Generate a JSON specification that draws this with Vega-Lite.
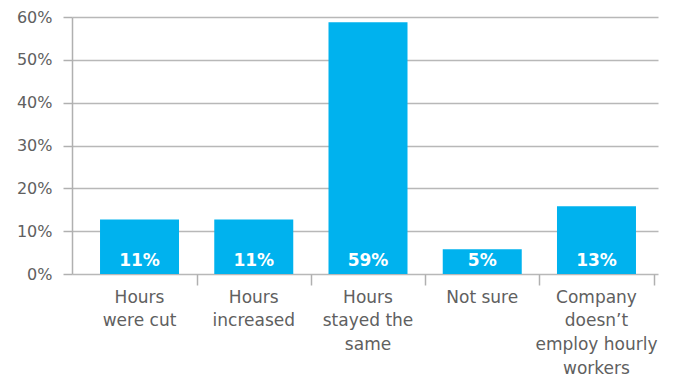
{
  "$schema": "https://vega.github.io/schema/vega-lite/v6.json",
  "width": 586,
  "height": 257,
  "autosize": {"type": "none"},
  "padding": {"left": 72, "top": 17, "right": 15, "bottom": 103},
  "background": "white",
  "config": {"view": {"stroke": null}, "font": "DejaVu Sans"},
  "data": {
    "values": [
      {"category": "Hours|were cut", "value": 12.7, "label": "11%"},
      {"category": "Hours|increased", "value": 12.7, "label": "11%"},
      {"category": "Hours|stayed the|same", "value": 58.8, "label": "59%"},
      {"category": "Not sure", "value": 5.8, "label": "5%"},
      {"category": "Company|doesn’t|employ hourly|workers", "value": 15.8, "label": "13%"}
    ]
  },
  "resolve": {"axis": {"x": "independent"}},
  "layer": [
    {
      "mark": {"type": "bar", "color": "#00B2EE"},
      "encoding": {
        "x": {
          "field": "category",
          "type": "nominal",
          "sort": null,
          "scale": {"paddingInner": 0.3085, "paddingOuter": 0.219, "align": 0.56},
          "axis": {
            "orient": "bottom",
            "title": null,
            "labelAngle": 0,
            "labelExpr": "split(datum.value, '|')",
            "labelFontSize": 17,
            "labelColor": "#606060",
            "labelLineHeight": 23.8,
            "labelPadding": 15,
            "labelBaseline": "top",
            "domain": false,
            "ticks": false,
            "grid": false
          }
        },
        "y": {
          "field": "value",
          "type": "quantitative",
          "scale": {"domain": [0, 60], "nice": false},
          "axis": {
            "title": null,
            "values": [0, 10, 20, 30, 40, 50, 60],
            "labelExpr": "datum.value + '%'",
            "labelFontSize": 16,
            "labelColor": "#606060",
            "labelPadding": 11,
            "tickSize": 9,
            "tickColor": "#b0b0b0",
            "tickWidth": 1.5,
            "domainColor": "#b0b0b0",
            "domainWidth": 1.5,
            "gridColor": "#b8b8b8",
            "gridWidth": 1.5,
            "gridOpacity": 1
          }
        }
      }
    },
    {
      "mark": {"type": "text", "color": "white", "fontWeight": "bold", "fontSize": 17, "baseline": "bottom", "dy": -4},
      "encoding": {
        "x": {
          "field": "category",
          "type": "nominal",
          "sort": null,
          "scale": {"paddingInner": 0.3085, "paddingOuter": 0.219, "align": 0.56},
          "axis": {
            "orient": "bottom",
            "title": null,
            "labels": false,
            "domain": false,
            "grid": false,
            "ticks": true,
            "tickOffset": 57.1,
            "tickSize": 11,
            "tickColor": "#b0b0b0",
            "tickWidth": 1.5
          }
        },
        "y": {"datum": 0, "type": "quantitative"},
        "text": {"field": "label"}
      }
    }
  ]
}
